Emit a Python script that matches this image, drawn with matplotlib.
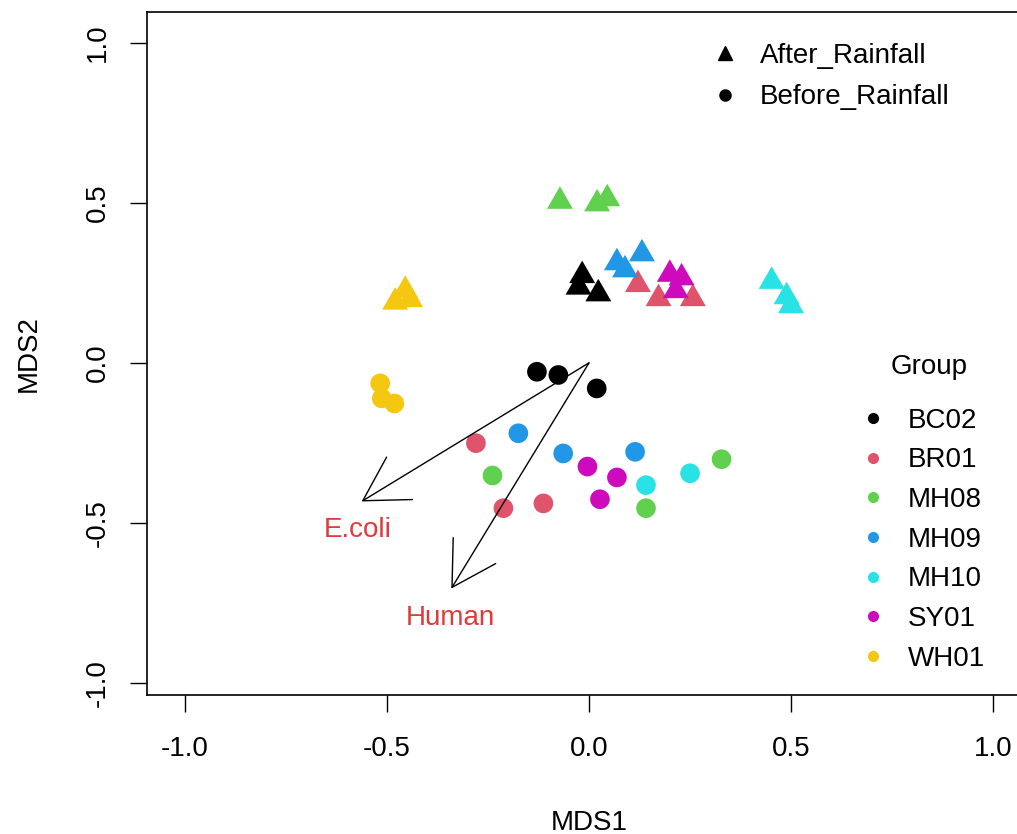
import numpy as np
import matplotlib.pyplot as plt
from matplotlib.lines import Line2D

plt.rcParams['font.family'] = ['Liberation Sans', 'DejaVu Sans']
plt.rcParams['axes.unicode_minus'] = False
FONTSIZE = 20

groups = ['BC02', 'BR01', 'MH08', 'MH09', 'MH10', 'SY01', 'WH01']
colors = ['#000000', '#DF536B', '#61D04F', '#2297E6', '#28E2E5', '#CD0BBC', '#F5C710']

# After_Rainfall samples (triangles)
after_group = ['BC02', 'BC02', 'BC02', 'BR01', 'BR01', 'BR01',
               'MH08', 'MH08', 'MH08', 'MH09', 'MH09', 'MH09',
               'MH10', 'MH10', 'MH10', 'SY01', 'SY01', 'SY01',
               'WH01', 'WH01', 'WH01']
after_mds1 = [-0.017, -0.026, 0.023, 0.121, 0.172, 0.257,
              -0.072, 0.020, 0.045, 0.069, 0.089, 0.131,
              0.452, 0.489, 0.500, 0.200, 0.229, 0.215,
              -0.455, -0.480, -0.443]
after_mds2 = [0.284, 0.248, 0.227, 0.256, 0.212, 0.212,
              0.516, 0.508, 0.524, 0.324, 0.302, 0.352,
              0.266, 0.218, 0.190, 0.288, 0.277, 0.237,
              0.238, 0.201, 0.209]

# Before_Rainfall samples (circles)
before_group = ['BC02', 'BC02', 'BC02', 'BR01', 'BR01', 'BR01',
                'MH08', 'MH08', 'MH08', 'MH09', 'MH09', 'MH09',
                'MH10', 'MH10', 'SY01', 'SY01', 'SY01',
                'WH01', 'WH01', 'WH01']
before_mds1 = [-0.129, -0.076, 0.019, -0.280, -0.212, -0.113,
               -0.239, 0.141, 0.328, -0.175, -0.064, 0.114,
               0.141, 0.250, -0.004, 0.069, 0.027,
               -0.517, -0.513, -0.482]
before_mds2 = [-0.028, -0.038, -0.080, -0.251, -0.454, -0.439,
               -0.352, -0.454, -0.301, -0.220, -0.283, -0.278,
               -0.382, -0.345, -0.324, -0.358, -0.426,
               -0.064, -0.111, -0.127]

# fitted vectors
vec_names = ['E.coli', 'Human']
vec_mds1 = [-0.563, -0.341]
vec_mds2 = [-0.433, -0.705]
vec_label_x = [-0.572, -0.344]
vec_label_y = [-0.523, -0.797]

col_of = dict(zip(groups, colors))
tri = [(0, 0.433), (-0.5, -0.433), (0.5, -0.433), (0, 0.433)]

fig = plt.figure(figsize=(10.17, 8.34), dpi=100)
ax = fig.add_axes([0.1443, 0.1670, 0.8698, 0.819])

ax.scatter(after_mds1, after_mds2, c=[col_of[g] for g in after_group],
           marker=tri, s=350, linewidths=0, zorder=3)
ax.scatter(before_mds1, before_mds2, c=[col_of[g] for g in before_group],
           marker='o', s=200, linewidths=0, zorder=3)

for name, vx, vy, lx, ly in zip(vec_names, vec_mds1, vec_mds2, vec_label_x, vec_label_y):
    ax.annotate('', xy=(vx, vy), xytext=(0, 0),
                arrowprops=dict(arrowstyle='->,head_length=3.1,head_width=1.79',
                                mutation_scale=10, lw=1, color='black',
                                shrinkA=0, shrinkB=0), zorder=4)
    ax.text(lx, ly, name, color='#E03A3A', fontsize=FONTSIZE, ha='center', va='center')

ax.set_xlim(-1.0948, 1.0948)
ax.set_ylim(-1.0365, 1.0965)
ax.set_xticks([-1.0, -0.5, 0.0, 0.5, 1.0])
ax.set_yticks([-1.0, -0.5, 0.0, 0.5, 1.0])
ax.tick_params(direction='out', length=12, width=1, labelsize=FONTSIZE)
ax.tick_params(axis='x', pad=18)
ax.tick_params(axis='y', pad=14)
plt.setp(ax.get_yticklabels(), rotation=90, va='center')
for s in ax.spines.values():
    s.set_linewidth(1.2)
ax.set_xlabel('MDS1', fontsize=FONTSIZE, labelpad=34)
ax.set_ylabel('MDS2', fontsize=FONTSIZE, labelpad=31)

# shape legend
shape_handles = [Line2D([], [], ls='none', marker='^', color='black', ms=10),
                 Line2D([], [], ls='none', marker='o', color='black', ms=8)]
leg1 = ax.legend(shape_handles, ['After_Rainfall', 'Before_Rainfall'],
                 loc='upper left', bbox_to_anchor=(0.638, 0.954), frameon=False,
                 fontsize=FONTSIZE, borderpad=0, borderaxespad=0, handlelength=1,
                 handletextpad=0.75, labelspacing=0.55)
ax.add_artist(leg1)

# group legend
group_handles = [Line2D([], [], ls='none', marker='o', color=c, ms=7) for c in colors]
ax.legend(group_handles, groups, loc='upper left', bbox_to_anchor=(0.805, 0.420),
          frameon=False, fontsize=FONTSIZE, borderpad=0, borderaxespad=0,
          handlelength=1, handletextpad=0.75, labelspacing=0.49)
ax.text(0.884, 0.480, 'Group', transform=ax.transAxes, fontsize=FONTSIZE,
        ha='center', va='center')

fig.savefig('out.png', dpi=100)
